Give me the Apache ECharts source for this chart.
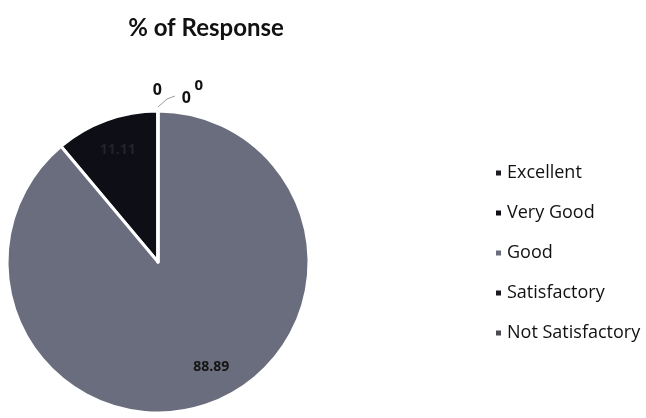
<!DOCTYPE html>
<html><head><meta charset="utf-8">
<script src="https://cdn.jsdelivr.net/npm/echarts@6/dist/echarts.min.js"></script>
<style>html,body{margin:0;padding:0;background:#fff}#c{width:646px;height:418px}</style>
</head><body><div id="c"></div>
<script>
const categories = ['Excellent', 'Very Good', 'Good', 'Satisfactory', 'Not Satisfactory'];
const values = [0, 11.11, 88.89, 0, 0];
const colors = ['#1c1c20', '#0e0e16', '#6a6d7d', '#1a1a1e', '#4a4a50'];

const chart = echarts.init(document.getElementById('c'));
const center = [158, 262];
const R = 151;
// small nudges for the label text (pixels)
const zeroNudge = [[39, -6], [0, 0], [0, 0], [68, 2], [80, -10]];
chart.setOption({
  animation: false,
  title: {
    text: '% of Response', left: 201, top: 11, textAlign: 'center',
    textStyle: { fontFamily: 'Lato', fontWeight: 'bold', fontSize: 24, color: '#111' }
  },
  legend: {
    orient: 'vertical', left: 489, top: 159, itemWidth: 7, itemHeight: 7, itemGap: 22,
    icon: 'rect',
    data: categories,
    textStyle: { fontFamily: 'Open Sans', fontSize: 18, color: '#111' }
  },
  series: [{
    type: 'pie', center: center, radius: R, startAngle: 90, clockwise: false,
    avoidLabelOverlap: false,
    itemStyle: { borderColor: '#fff', borderWidth: 3 },
    label: { show: true, position: 'outside', fontFamily: 'Open Sans', fontWeight: 'bold', fontSize: 16, color: '#111' },
    labelLine: { show: false, lineStyle: { color: '#9a9a9a', width: 1 } },
    labelLayout: function (p) {
      const n = zeroNudge[p.dataIndex];
      const out = { dx: n[0], dy: n[1] };
      if (p.dataIndex === 3 && p.labelLinePoints) {
        const s = p.labelLinePoints[0];
        out.labelLinePoints = [[s[0], s[1] - 4], [s[0] + 9, s[1] - 12], [s[0] + 17, s[1] - 15]];
      }
      return out;
    },
    data: categories.map((n, i) => ({
      name: n, value: values[i], itemStyle: { color: colors[i] },
      label: { show: values[i] === 0, formatter: '{c}', fontSize: i === 4 ? 15 : 16 },
      labelLine: { show: i === 3 }
    }))
  }, {
    type: 'pie', center: center, radius: [R * 0.56, R], startAngle: 90, clockwise: false,
    silent: true, legendHoverLink: false,
    itemStyle: { color: 'rgba(0,0,0,0)' },
    label: { show: true, position: 'inside', fontFamily: 'Open Sans', fontWeight: 'bold', fontSize: 14, color: '#111' },
    labelLine: { show: false },
    labelLayout: function (p) {
      return p.dataIndex === 2 ? { dx: 12, dy: -8 } : { dx: 1, dy: 2 };
    },
    data: categories.map((n, i) => ({
      name: n, value: values[i],
      label: { show: values[i] > 0, formatter: '{c}', color: i === 1 ? '#23232f' : '#151515' }
    }))
  }]
});
</script></body></html>
